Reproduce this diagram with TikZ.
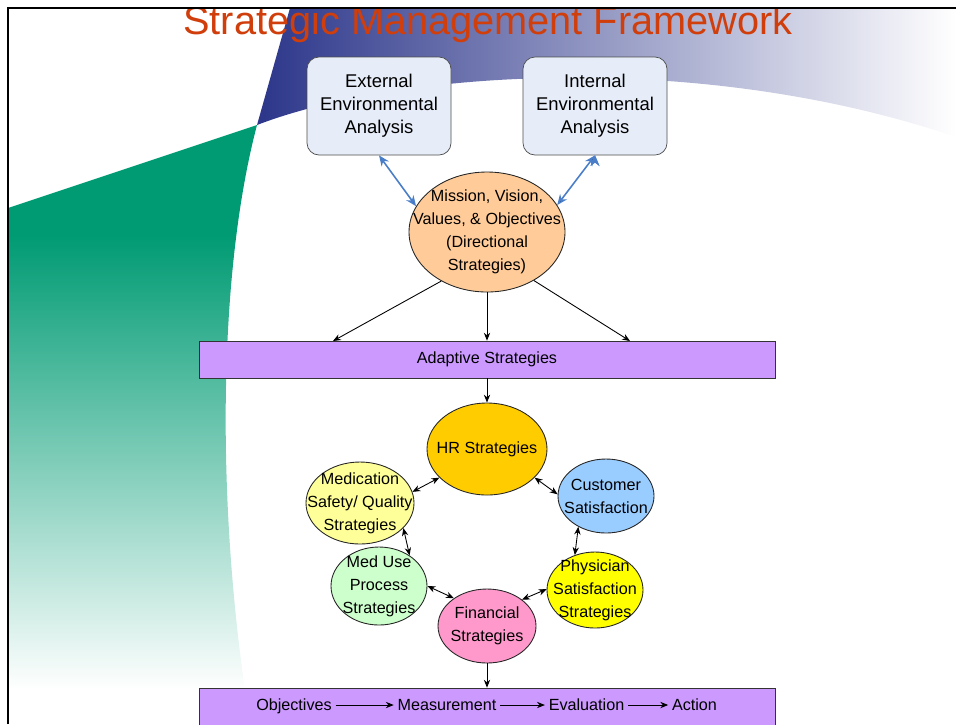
\documentclass[tikz,border=0pt]{standalone}
\usepackage{fontspec}
\setmainfont{Liberation Sans}
\usepackage{tikz}
\usetikzlibrary{positioning, shapes.geometric, arrows.meta}
\usepackage{xcolor}

\definecolor{titlered}{RGB}{208,62,12}
\definecolor{navy}{RGB}{44,54,138}
\definecolor{navymid}{RGB}{112,110,175}
\definecolor{slidegreen}{RGB}{0,155,115}
\definecolor{paleblue}{RGB}{231,237,248}
\definecolor{peach}{RGB}{255,204,153}
\definecolor{lavender}{RGB}{204,153,255}
\definecolor{gold}{RGB}{255,204,0}
\definecolor{cream}{RGB}{255,255,153}
\definecolor{sky}{RGB}{153,204,255}
\definecolor{mint}{RGB}{204,255,204}
\definecolor{lemon}{RGB}{255,255,0}
\definecolor{rose}{RGB}{255,153,204}
\definecolor{linkblue}{RGB}{74,126,200}

\begin{document}
\begin{tikzpicture}[
    >={Stealth[length=4.5pt,width=3.6pt]},
    panel/.style={rectangle, rounded corners=0.24cm, draw=black!70, fill=paleblue,
        minimum width=2.88cm, minimum height=1.96cm, align=center,
        font=\fontsize{10.5}{13}\selectfont},
    bubble/.style={ellipse, draw=black!85, line width=0.5pt, inner sep=0pt},
    bar/.style={rectangle, draw=black!80, fill=lavender, minimum width=11.52cm,
        font=\fontsize{9.2}{13}\selectfont},
    rowtxt/.style={inner xsep=2pt, text height=1.6ex, text depth=0.4ex,
        font=\fontsize{9.2}{13}\selectfont},
    every label/.style={align=center, font=\fontsize{9.2}{13}\selectfont},
    flow/.style={->, line width=0.5pt},
    twoway/.style={<->, line width=0.5pt},
    sync/.style={{Stealth[length=6pt,width=5pt]}-{Stealth[length=6pt,width=5pt]},
        draw=linkblue, line width=0.9pt}
]
    \useasboundingbox (0,0) rectangle (19.12,-14.48);

    % slide background, kept inside the frame
    \begin{scope}
        \clip (0.16,-0.16) rectangle (19.12,-14.48);
        \shade[left color=navy, middle color=navymid, right color=white]
            (5.8,-0.16) -- (5.14,-2.5)
            .. controls (8,-1.4) and (14,-1.0) .. (19.12,-2.74)
            -- (19.12,-0.16) -- cycle;
        \begin{scope}
            \clip (5.14,-2.5) -- (0.16,-4.16) -- (0.16,-13.8) -- (4.9,-13.8)
                .. controls (4.35,-10) and (4.35,-5.5) .. (5.14,-2.5);
            \fill[slidegreen] (0,-2.4) rectangle (5.3,-4.7);
            \shade[top color=slidegreen, bottom color=white] (0,-4.7) rectangle (5.3,-13.8);
        \end{scope}
        \node[anchor=base, text=titlered, font=\fontsize{22.6}{27}\selectfont]
            (title) at (9.76,-0.68) {Strategic Management Framework};
    \end{scope}
    \draw[line width=1.5pt] (0.16,-14.48) -- (0.16,-0.16) -- (19.12,-0.16);

    % analysis boxes and directional strategies
    \node[panel] (ext) at (7.58,-2.12) {External\\Environmental\\Analysis};
    \node[panel] (int) at (11.9,-2.12) {Internal\\Environmental\\Analysis};
    \node[bubble, fill=peach, minimum width=3.12cm, minimum height=2.4cm,
        label={center:Mission, Vision,\\Values, \& Objectives\\(Directional\\Strategies)}]
        (mission) at (9.74,-4.64) {};

    \node[bar, minimum height=0.74cm] (adapt) at (9.74,-7.19) {Adaptive Strategies};
    \coordinate (adaptL) at (6.66,-6.82);
    \coordinate (adaptR) at (12.6,-6.82);

    % ring of strategies
    \node[bubble, fill=gold, minimum width=2.4cm, minimum height=1.84cm,
        label={center:HR Strategies}] (hr) at (9.74,-8.98) {};
    \node[bubble, fill=cream, minimum width=2.16cm, minimum height=1.64cm,
        label={center:Medication\\Safety/ Quality\\Strategies}] (medq) at (7.2,-10.06) {};
    \node[bubble, fill=sky, minimum width=1.92cm, minimum height=1.48cm,
        label={center:Customer\\Satisfaction}] (cust) at (12.12,-9.92) {};
    \node[bubble, fill=mint, minimum width=1.92cm, minimum height=1.56cm,
        label={center:Med Use\\Process\\Strategies}] (meduse) at (7.58,-11.72) {};
    \node[bubble, fill=lemon, minimum width=1.92cm, minimum height=1.52cm,
        label={center:Physician\\Satisfaction\\Strategies}] (phys) at (11.9,-11.8) {};
    \node[bubble, fill=rose, minimum width=1.96cm, minimum height=1.48cm,
        label={center:Financial\\Strategies}] (fin) at (9.74,-12.52) {};

    % bottom loop
    \node[bar, minimum height=0.9cm] (review) at (9.74,-14.21) {};
    \node[rowtxt] (obj) at (5.88,-14.1) {Objectives};
    \node[rowtxt] (meas) at (8.94,-14.1) {Measurement};
    \node[rowtxt] (eval) at (11.73,-14.1) {Evaluation};
    \node[rowtxt] (act) at (13.89,-14.1) {Action};

    % connectors
    \path[sync]
        (ext.south) edge (mission.160)
        (int.south) edge (mission.21);
    \path[flow]
        (mission.227) edge (adaptL)
        (mission) edge (adapt)
        (mission.314) edge (adaptR)
        (adapt) edge (hr)
        (fin) edge (review)
        (obj) edge (meas)
        (meas) edge (eval)
        (eval) edge (act);
    \path[twoway]
        (hr.211) edge (medq.12)
        (hr.329) edge (cust.178)
        (cust.228) edge (phys.120)
        (phys.179) edge (fin.37)
        (fin.140) edge (meduse.0)
        (meduse.45) edge (medq.330);
\end{tikzpicture}
\end{document}
